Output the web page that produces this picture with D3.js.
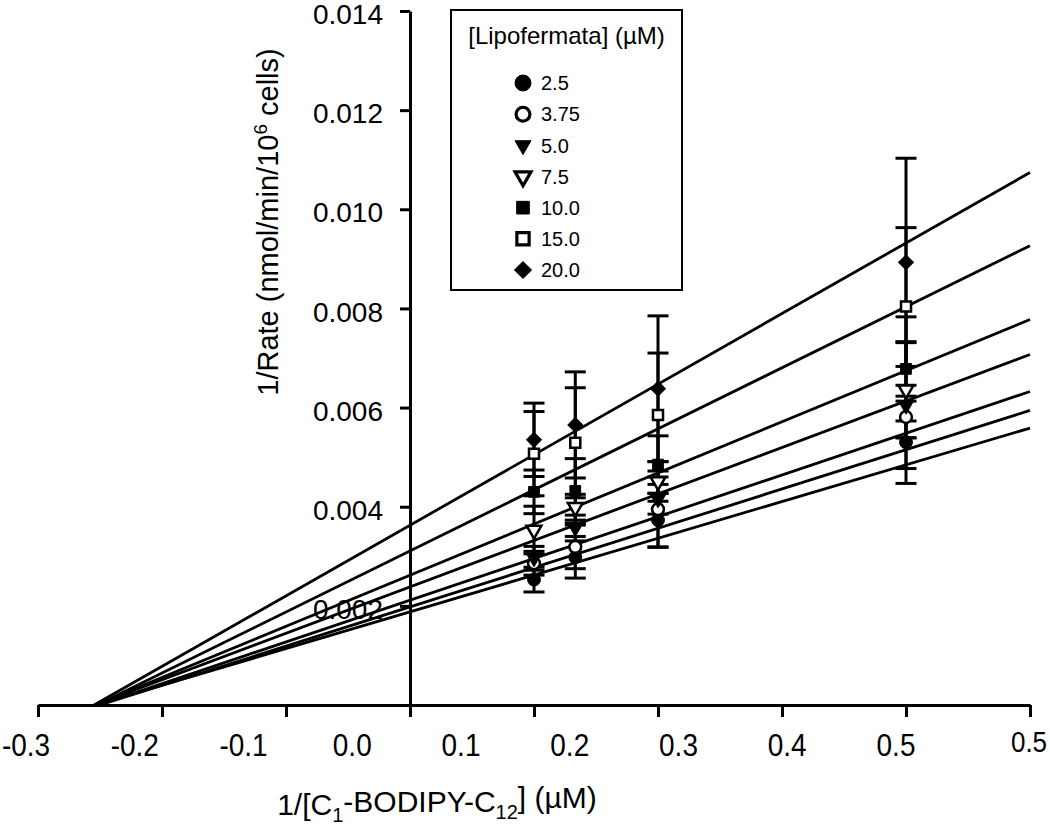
<!DOCTYPE html>
<html>
<head>
<meta charset="utf-8">
<script src="https://cdn.jsdelivr.net/npm/d3@7"></script>
<style>
  html, body { margin: 0; padding: 0; background: #fff; }
  svg { display: block; font-family: "Liberation Sans", Arial, Helvetica, sans-serif; }
</style>
</head>
<body>
<svg id="chart" width="1050" height="835"></svg>
<script>
// ---------- data ----------
const concentrations = ["2.5", "3.75", "5.0", "7.5", "10.0", "15.0", "20.0"];
const inverseSubstrate = [0.1, 0.1333, 0.2, 0.4];

const rate2_5  = [0.00253, 0.00298, 0.00373, 0.00530];
const rate3_75 = [0.00286, 0.00319, 0.00395, 0.00581];
const rate5_0  = [0.00296, 0.00357, 0.00415, 0.00604];
const rate7_5  = [0.00353, 0.00399, 0.00451, 0.00636];
const rate10_0 = [0.00430, 0.00432, 0.00485, 0.00678];
const rate15_0 = [0.00507, 0.00529, 0.00585, 0.00804];
const rate20_0 = [0.00535, 0.00565, 0.00638, 0.00893];

const err2_5  = [0.00025, 0.00042, 0.00054, 0.00083];
const err3_75 = [0.00024, 0.00044, 0.00077, 0.00042];
const err5_0  = [0.00024, 0.00026, 0.00030, 0.00127];
const err7_5  = [0.00048, 0.00026, 0.00040, 0.00097];
const err10_0 = [0.00044, 0.00065, 0.00058, 0.00105];
const err15_0 = [0.00085, 0.00111, 0.00125, 0.00159];
const err20_0 = [0.00074, 0.00107, 0.00147, 0.00210];

// fitted Lineweaver-Burk lines (y-intercept and slope), per concentration
const fitIntercept = [0.00188, 0.00198, 0.002115, 0.002383, 0.002619, 0.003108, 0.003626];
const fitSlope     = [0.007412, 0.007924, 0.00842, 0.009376, 0.010314, 0.012316, 0.014234];

const xTickValues = [-0.3, -0.2, -0.1, 0.0, 0.1, 0.2, 0.3, 0.4, 0.5];
const xTickLabels = ["-0.3", "-0.2", "-0.1", "0.0", "0.1", "0.2", "0.3", "0.4", "0.5", "0.5"];
const yTickValues = [0.002, 0.004, 0.006, 0.008, 0.010, 0.012, 0.014];

const legendTitle = "[Lipofermata] (\u00B5M)";

// ---------- build ----------
const rates = [rate2_5, rate3_75, rate5_0, rate7_5, rate10_0, rate15_0, rate20_0];
const errs  = [err2_5, err3_75, err5_0, err7_5, err10_0, err15_0, err20_0];
const shapes = [
  { type: d3.symbolCircle,   fill: true,  rot: 0,   size: 130, lsize: 200 },
  { type: d3.symbolCircle,   fill: false, rot: 0,   size: 110, lsize: 150 },
  { type: d3.symbolTriangle, fill: true,  rot: 180, size: 95,  lsize: 110 },
  { type: d3.symbolTriangle, fill: false, rot: 180, size: 95,  lsize: 110 },
  { type: d3.symbolSquare,   fill: true,  rot: 0,   size: 115, lsize: 160 },
  { type: d3.symbolSquare,   fill: false, rot: 0,   size: 100, lsize: 150 },
  { type: d3.symbolSquare,   fill: true,  rot: 45,  size: 110, lsize: 140 }
];

const series = concentrations.map((c, i) => ({
  name: c,
  shape: shapes[i],
  intercept: fitIntercept[i],
  slope: fitSlope[i],
  points: inverseSubstrate.map((x, j) => ({ x, y: rates[i][j], e: errs[i][j] }))
}));

const svg = d3.select("#chart");
const x = d3.scaleLinear().domain([-0.3, 0.5]).range([38, 1030]);
const y = d3.scaleLinear().domain([0, 0.014]).range([705, 11]);

// x axis
const xAxis = svg.append("g")
  .attr("transform", `translate(0,${y(0)})`)
  .call(d3.axisBottom(x).tickValues(xTickValues).tickSize(12).tickSizeOuter(0).tickFormat(""));
xAxis.select(".domain").attr("stroke-width", 3);
xAxis.selectAll(".tick line").attr("stroke-width", 3);

// x tick labels (as printed, offset from the ticks)
const labelPos = d3.scaleLinear().domain([0, 8]).range([26, 896]);
svg.append("g").selectAll("text")
  .data(xTickLabels)
  .join("text")
  .attr("x", (d, i) => i < 9 ? labelPos(i) : x(0.5) - 1)
  .attr("y", (d, i) => i < 9 ? 756 : 752)
  .attr("text-anchor", "middle")
  .attr("font-size", (d, i) => i < 9 ? 28 : 26)
  .attr("transform", (d, i) => {
    const ly = i < 9 ? 756 : 752;
    return `translate(0,${ly}) scale(1,1.15) translate(0,${-ly})`;
  })
  .text(d => d);

// y axis at x = 0
const yAxis = svg.append("g")
  .attr("transform", `translate(${x(0)},0)`)
  .call(d3.axisLeft(y).tickValues(yTickValues).tickSize(10).tickSizeOuter(0)
        .tickPadding(17).tickFormat(d3.format(".3f")));
yAxis.select(".domain").attr("stroke-width", 3);
yAxis.selectAll(".tick line").attr("stroke-width", 3);
yAxis.selectAll(".tick text").attr("font-size", 28).attr("dy", "0.45em")
  .attr("font-family", "Liberation Sans, Arial, sans-serif").attr("fill", "#000");

// axis titles
const yTitle = svg.append("text")
  .attr("transform", "translate(268,222) rotate(-90)")
  .attr("text-anchor", "middle")
  .attr("dy", "0.35em")
  .attr("font-size", 29);
yTitle.append("tspan").text("1/Rate (nmol/min/10");
yTitle.append("tspan").attr("font-size", 19).attr("dy", "-0.6em").text("6");
yTitle.append("tspan").attr("dy", "0.4em").text(" cells)");

const xTitle = svg.append("text")
  .attr("x", 437).attr("y", 815)
  .attr("text-anchor", "middle")
  .attr("font-size", 30);
xTitle.append("tspan").text("1/[C");
xTitle.append("tspan").attr("font-size", 20).attr("dy", "0.35em").text("1");
xTitle.append("tspan").attr("dy", "-0.35em").text("-BODIPY-C");
xTitle.append("tspan").attr("font-size", 20).attr("dy", "0.35em").text("12");
xTitle.append("tspan").attr("dy", "-0.35em").text("] (\u00B5M)");

// fitted lines
const line = d3.line().x(d => x(d[0])).y(d => y(d[1]));
svg.append("g").selectAll("path")
  .data(series)
  .join("path")
  .attr("fill", "none")
  .attr("stroke", "#000")
  .attr("stroke-width", 2.8)
  .attr("d", s => {
    const x0 = -s.intercept / s.slope;
    return line([[x0, 0], [0.5, s.intercept + s.slope * 0.5]]);
  });

// error bars
const eb = svg.append("g").attr("stroke", "#000").attr("stroke-width", 3);
series.forEach(s => {
  s.points.forEach(p => {
    eb.append("line").attr("x1", x(p.x)).attr("x2", x(p.x))
      .attr("y1", y(p.y - p.e)).attr("y2", y(p.y + p.e));
    [p.y - p.e, p.y + p.e].forEach(v => {
      eb.append("line").attr("x1", x(p.x) - 10.5).attr("x2", x(p.x) + 10.5)
        .attr("y1", y(v)).attr("y2", y(v));
    });
  });
});

// points
const symGen = d3.symbol();
series.forEach(s => {
  svg.append("g").selectAll("path")
    .data(s.points)
    .join("path")
    .attr("d", symGen.type(s.shape.type).size(s.shape.size)())
    .attr("transform", d => `translate(${x(d.x)},${y(d.y)}) rotate(${s.shape.rot})`)
    .attr("fill", s.shape.fill ? "#000" : "#fff")
    .attr("stroke", "#000")
    .attr("stroke-width", s.shape.fill ? 1 : 2.5);
});

// legend
const lg = svg.append("g");
lg.append("rect").attr("x", 451).attr("y", 10).attr("width", 231).attr("height", 280)
  .attr("fill", "#fff").attr("stroke", "#000").attr("stroke-width", 2);
lg.append("text").attr("x", 566.5).attr("y", 44).attr("text-anchor", "middle")
  .attr("font-size", 24).text(legendTitle);
const legendY = d3.scalePoint().domain(concentrations).range([83, 270]);
const items = lg.selectAll("g.item").data(series).join("g")
  .attr("class", "item")
  .attr("transform", s => `translate(0,${legendY(s.name)})`);
items.append("path")
  .attr("d", s => d3.symbol().type(s.shape.type).size(s.shape.lsize)())
  .attr("transform", s => `translate(523,0) rotate(${s.shape.rot})`)
  .attr("fill", s => s.shape.fill ? "#000" : "#fff")
  .attr("stroke", "#000")
  .attr("stroke-width", s => s.shape.fill ? 1 : 3.2);
items.append("text")
  .attr("x", 541).attr("dy", "0.36em")
  .attr("font-size", 20)
  .text(s => s.name);
</script>
</body>
</html>
